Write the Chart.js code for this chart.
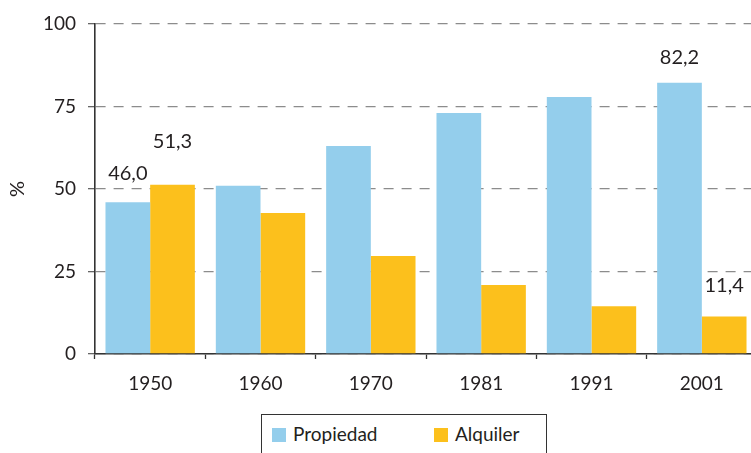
<!DOCTYPE html>
<html>
<head>
<meta charset="utf-8">
<script src="https://cdn.jsdelivr.net/npm/chart.js@4/dist/chart.umd.min.js"></script>
<style>
  html, body { margin: 0; padding: 0; background: #fff; }
  body { width: 751px; height: 453px; overflow: hidden; position: relative; font-family: Lato, sans-serif; color: #231f20; }
  #wrap { position: absolute; left: 0; top: 0; width: 760px; height: 400px; }
  #legend { position: absolute; left: 261px; top: 414px; width: 286px; height: 60px; border: 1.5px solid #333; box-sizing: border-box; }
  .sw { position: absolute; top: 13px; width: 14px; height: 14px; }
  .lb { position: absolute; top: 7px; font-size: 19px; line-height: 24px; }
</style>
</head>
<body>
<div id="wrap"><canvas id="chart" width="760" height="400"></canvas></div>
<div id="legend">
  <div class="sw" style="left:10px; background:#94ceec;"></div>
  <div class="lb" style="left:31px;">Propiedad</div>
  <div class="sw" style="left:172px; background:#fcc01c;"></div>
  <div class="lb" style="left:193px;">Alquiler</div>
</div>
<script>
const years = ['1950', '1960', '1970', '1981', '1991', '2001'];
const propiedad = [46.0, 51.0, 63.0, 73.0, 77.9, 82.2];
const alquiler = [51.3, 42.7, 29.7, 20.9, 14.5, 11.4];
const yTicks = [0, 25, 50, 75, 100];

// only some bars carry a value label in the original
const labelled = [
    { dataset: 0, index: 0, text: '46,0', lift: 29 },
    { dataset: 1, index: 0, text: '51,3', lift: 43 },
    { dataset: 0, index: 5, text: '82,2', lift: 25 },
    { dataset: 1, index: 5, text: '11,4', lift: 31 }
];

const valueLabels = {
    id: 'valueLabels',
    afterDatasetsDraw(chart) {
        const ctx = chart.ctx;
        const yScale = chart.scales.y;
        ctx.save();
        ctx.font = '20px Lato';
        ctx.fillStyle = '#231f20';
        ctx.textAlign = 'center';
        ctx.textBaseline = 'middle';
        labelled.forEach(l => {
            const bar = chart.getDatasetMeta(l.dataset).data[l.index];
            const value = chart.data.datasets[l.dataset].data[l.index];
            ctx.fillText(l.text, bar.x, yScale.getPixelForValue(value) - l.lift);
        });
        ctx.restore();
    }
};

new Chart(document.getElementById('chart'), {
    type: 'bar',
    data: {
        labels: years,
        datasets: [
            { label: 'Propiedad', data: propiedad, backgroundColor: '#94ceec' },
            { label: 'Alquiler', data: alquiler, backgroundColor: '#fcc01c' }
        ]
    },
    options: {
        responsive: false,
        animation: false,
        events: [],
        layout: { padding: { top: 24, right: 3, left: 0, bottom: 0 } },
        datasets: { bar: { categoryPercentage: 0.81, barPercentage: 1.0 } },
        scales: {
            x: {
                afterFit: s => { s.height = 46; },
                grid: {
                    offset: true,
                    drawOnChartArea: false,
                    drawTicks: true,
                    tickLength: 5,
                    tickWidth: 1.3,
                    tickColor: '#333'
                },
                border: { display: true, color: '#333', width: 1.6 },
                ticks: { color: '#231f20', font: { family: 'Lato', size: 19 }, padding: 13, maxRotation: 0 }
            },
            y: {
                min: 0,
                max: 100,
                afterFit: s => { s.width = 95; },
                afterBuildTicks: s => { s.ticks = yTicks.map(v => ({ value: v })); },
                grid: {
                    color: '#8c8c8c',
                    lineWidth: 1.3,
                    tickColor: '#666',
                    tickLength: 7,
                    tickBorderDash: [0, 0]
                },
                border: { display: true, color: '#333', width: 1.6, dash: [10, 8] },
                ticks: { color: '#231f20', font: { family: 'Lato', size: 19 }, padding: 12 },
                title: { display: true, text: '%', color: '#231f20', font: { family: 'Lato', size: 20 }, padding: { top: 6 } }
            }
        },
        plugins: {
            legend: { display: false },
            tooltip: { enabled: false }
        }
    },
    plugins: [valueLabels]
});
</script>
</body>
</html>
